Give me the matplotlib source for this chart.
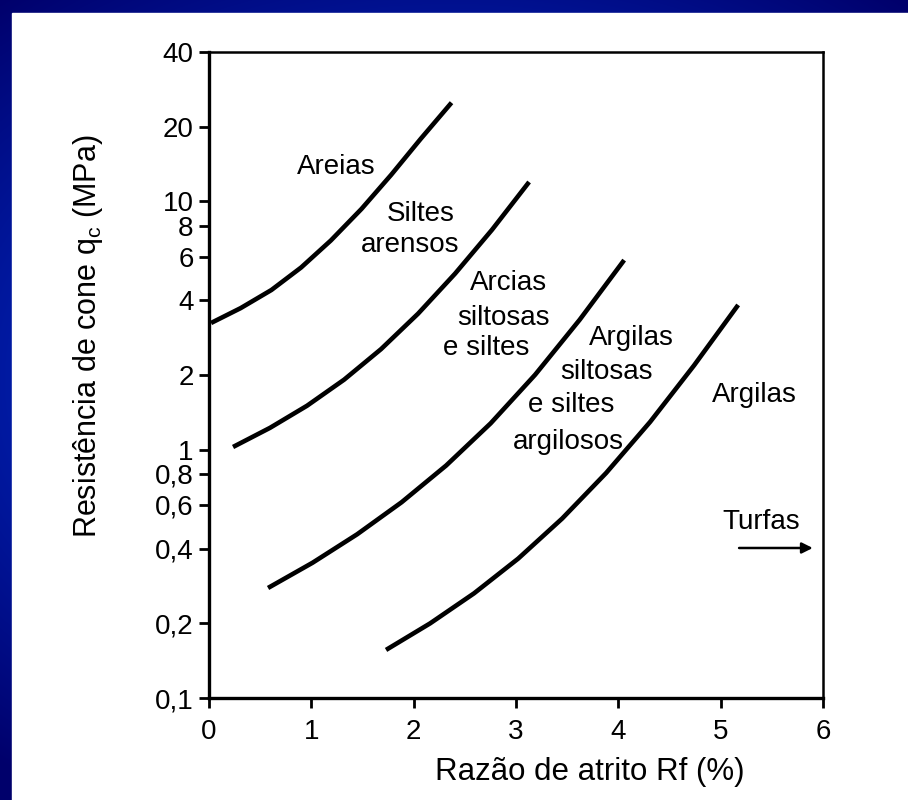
import numpy as np
import matplotlib
matplotlib.use("Agg")
import matplotlib.pyplot as plt
from matplotlib.ticker import NullLocator

plt.rcParams['font.family'] = ['Liberation Sans', 'DejaVu Sans']
plt.rcParams['mathtext.fontset'] = 'custom'
plt.rcParams['mathtext.rm'] = 'Liberation Sans'
plt.rcParams['mathtext.it'] = 'Liberation Sans:italic'

# boundary curves: friction ratio Rf (%) vs cone resistance qc (MPa)
rf_areias = [0.02, 0.31, 0.61, 0.90, 1.19, 1.49, 1.78, 2.07, 2.37]
qc_areias = [3.24, 3.72, 4.40, 5.42, 6.96, 9.33, 12.8, 17.9, 25.0]

rf_siltes = [0.235, 0.596, 0.958, 1.320, 1.681, 2.043, 2.405, 2.766, 3.128]
qc_siltes = [1.026, 1.225, 1.504, 1.915, 2.542, 3.532, 5.123, 7.695, 11.98]

rf_arcias = [0.577, 1.012, 1.447, 1.882, 2.317, 2.752, 3.187, 3.622, 4.057]
qc_arcias = [0.2775, 0.3506, 0.4563, 0.6144, 0.8635, 1.277, 2.005, 3.338, 5.806]

rf_argsilt = [1.730, 2.160, 2.590, 3.021, 3.451, 3.881, 4.311, 4.741, 5.171]
qc_argsilt = [0.1562, 0.1997, 0.2640, 0.3642, 0.5282, 0.8063, 1.295, 2.189, 3.830]

curves = [(rf_areias, qc_areias), (rf_siltes, qc_siltes),
          (rf_arcias, qc_arcias), (rf_argsilt, qc_argsilt)]

y_ticks = [40, 20, 10, 8, 6, 4, 2, 1, 0.8, 0.6, 0.4, 0.2, 0.1]
y_tick_labels = ['40', '20', '10', '8', '6', '4', '2', '1', '0,8', '0,6', '0,4', '0,2', '0,1']
x_ticks = [0, 1, 2, 3, 4, 5, 6]

# zone labels (text, Rf, qc)
zone_labels = [
    ('Areias', 1.24, 13.8),
    ('Siltes', 2.07, 8.9),
    ('arensos', 1.97, 6.7),
    ('Arcias', 2.93, 4.7),
    ('siltosas', 2.88, 3.4),
    ('e siltes', 2.71, 2.57),
    ('Argilas', 4.13, 2.82),
    ('siltosas', 3.88, 2.06),
    ('e siltes', 3.54, 1.51),
    ('argilosos', 3.51, 1.07),
    ('Argilas', 5.33, 1.66),
    ('Turfas', 5.40, 0.512),
]
turfas_arrow = (5.18, 5.90, 0.402)

W, H = 908, 800
fig = plt.figure(figsize=(W / 100, H / 100), dpi=100)

# blue slide background with white panel
bg = fig.add_axes([0, 0, 1, 1], zorder=-10)
yy, xx = np.mgrid[0:H, 0:W]
d = np.clip(np.hypot((xx - 450) / 700.0, (yy - 380) / 500.0), 0, 1)
bright = np.array([0.0, 0.27, 1.0])
dark = np.array([0.0, 0.0, 0.42])
img = bright[None, None, :] * (1 - d[..., None]) + dark[None, None, :] * d[..., None]
bg.imshow(img, extent=[0, W, 0, H], origin='upper', aspect='auto')
bg.add_patch(plt.Rectangle((12, 0), W - 12, H - 13, color='white'))
bg.set_xlim(0, W)
bg.set_ylim(0, H)
bg.axis('off')

ax = fig.add_axes([209 / W, 1 - 698 / H, 614 / W, 646 / H])
ax.set_facecolor('white')

for rf, qc in curves:
    ax.plot(rf, qc, color='black', linewidth=3.3, solid_capstyle='butt',
            solid_joinstyle='round')

for txt, x, y in zone_labels:
    ax.text(x, y, txt, fontsize=20, ha='center', va='center')

x0, x1, ya = turfas_arrow
ax.annotate('', xy=(x1, ya), xytext=(x0, ya),
            arrowprops=dict(arrowstyle='-|>', color='black', lw=1.8,
                            mutation_scale=16, shrinkA=0, shrinkB=0))

ax.set_yscale('log')
ax.set_xlim(0, 6)
ax.set_ylim(0.1, 40)
ax.set_yticks(y_ticks)
ax.set_yticklabels(y_tick_labels)
ax.yaxis.set_minor_locator(NullLocator())
ax.set_xticks(x_ticks)
ax.set_xticklabels([str(v) for v in x_ticks])
ax.tick_params(direction='out', length=7, width=2, labelsize=20)
ax.tick_params(axis='y', pad=4)
ax.tick_params(axis='x', pad=8)

for side in ['left', 'bottom']:
    ax.spines[side].set_linewidth(2.4)
for side in ['top', 'right']:
    ax.spines[side].set_linewidth(1.8)

ax.set_xlabel('Razão de atrito Rf (%)', fontsize=22.5)
ax.xaxis.set_label_coords(0.62, -0.092)
ax.set_ylabel(r'Resistência de cone q$_\mathrm{c}$ (MPa)', fontsize=22)
ax.yaxis.set_label_coords(-0.17, 0.56)

plt.savefig('out.png', dpi=100)
plt.close()
